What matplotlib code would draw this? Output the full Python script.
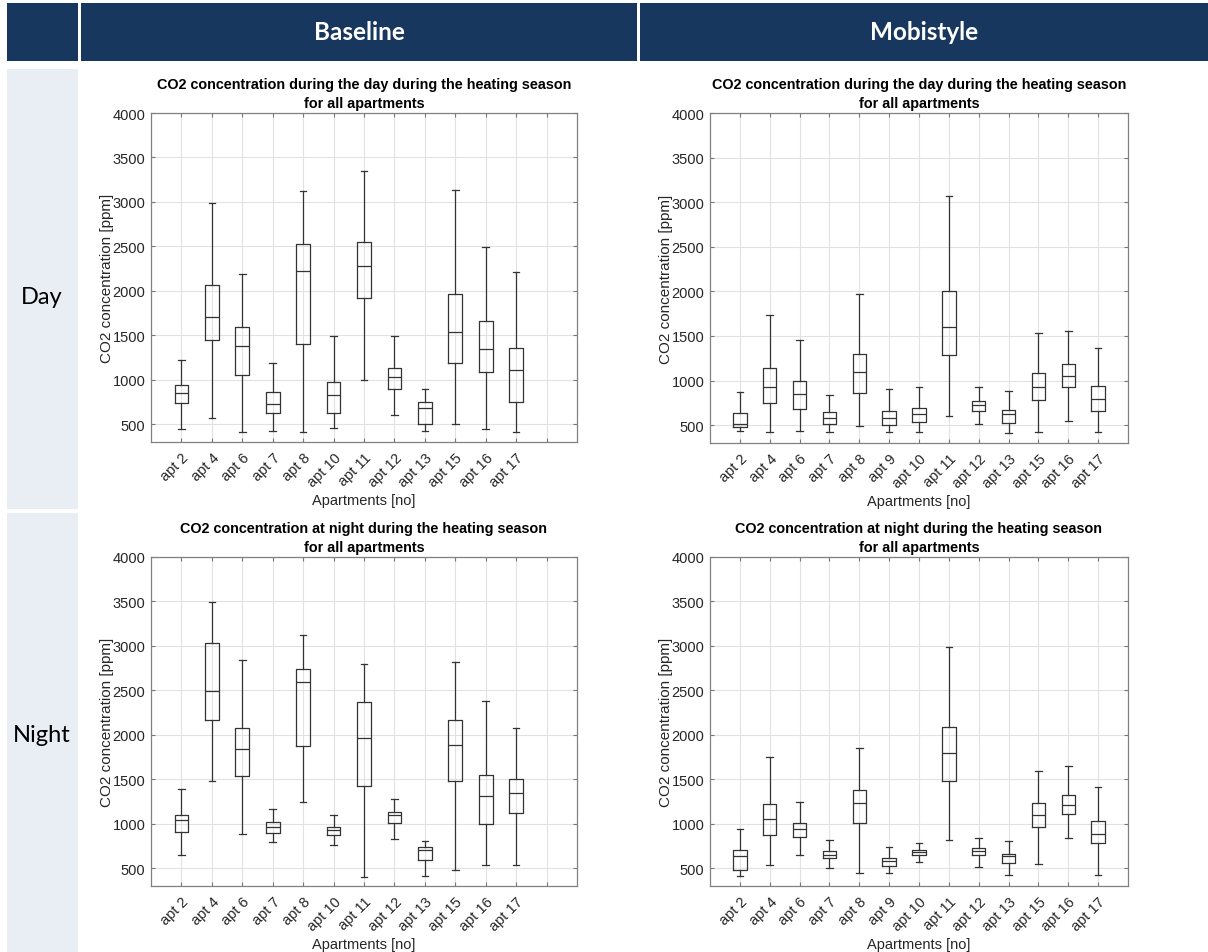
import matplotlib
matplotlib.use("Agg")
from matplotlib import pyplot as plt
from matplotlib.patches import Rectangle

# apartments in each study phase
apts_base = ['apt 2', 'apt 4', 'apt 6', 'apt 7', 'apt 8', 'apt 10', 'apt 11',
             'apt 12', 'apt 13', 'apt 15', 'apt 16', 'apt 17', '']
apts_mobi = ['apt 2', 'apt 4', 'apt 6', 'apt 7', 'apt 8', 'apt 9', 'apt 10',
             'apt 11', 'apt 12', 'apt 13', 'apt 15', 'apt 16', 'apt 17']

# baseline, day [ppm]
base_day_lo = [444, 568, 418, 429, 407, 463, 998, 605, 429, 504, 444, 418]
base_day_q1 = [736, 1447, 1054, 631, 1399, 631, 1915, 893, 504, 1185, 1092, 755]
base_day_med = [856, 1709, 1384, 725, 2222, 833, 2278, 1032, 680, 1541, 1350, 1114]
base_day_q3 = [942, 2069, 1593, 860, 2525, 979, 2544, 1137, 755, 1964, 1657, 1361]
base_day_hi = [1222, 2993, 2185, 1185, 3120, 1496, 3349, 1496, 901, 3132, 2495, 2215]

# mobistyle, day [ppm]
mobi_day_lo = [429, 418, 429, 418, 489, 425, 425, 601, 508, 410, 418, 549, 418]
mobi_day_q1 = [474, 744, 680, 511, 856, 500, 541, 1290, 661, 519, 785, 923, 654]
mobi_day_med = [511, 923, 845, 583, 1092, 583, 620, 1605, 725, 624, 923, 1054, 788]
mobi_day_q3 = [631, 1137, 991, 642, 1301, 661, 695, 2001, 766, 669, 1088, 1181, 942]
mobi_day_hi = [867, 1732, 1455, 837, 1968, 905, 931, 3072, 931, 886, 1533, 1556, 1369]

# baseline, night [ppm]
base_night_lo = [646, 1482, 883, 796, 1246, 762, 403, 834, 410, 485, 534, 534]
base_night_q1 = [905, 2164, 1538, 897, 1879, 871, 1426, 1014, 598, 1482, 1002, 1119]
base_night_med = [1040, 2497, 1838, 961, 2598, 927, 1969, 1096, 707, 1890, 1317, 1347]
base_night_q3 = [1100, 3030, 2074, 1021, 2737, 969, 2374, 1134, 733, 2171, 1550, 1505]
base_night_hi = [1396, 3498, 2842, 1167, 3127, 1100, 2801, 1276, 808, 2823, 2378, 2081]

# mobistyle, night [ppm]
mobi_night_lo = [418, 541, 654, 504, 451, 451, 568, 815, 511, 422, 553, 842, 429]
mobi_night_q1 = [478, 875, 856, 613, 1010, 530, 646, 1486, 646, 564, 965, 1111, 778]
mobi_night_med = [632, 1055, 946, 654, 1231, 583, 680, 1801, 691, 635, 1104, 1212, 883]
mobi_night_q3 = [710, 1227, 1014, 695, 1385, 613, 707, 2093, 729, 662, 1231, 1325, 1033]
mobi_night_hi = [946, 1751, 1250, 819, 1857, 744, 789, 2992, 842, 804, 1591, 1647, 1418]

yticks = [500, 1000, 1500, 2000, 2500, 3000, 3500, 4000]

W, H = 1208, 953
NAVY = '#17375e'
LIGHT = '#e9eef5'
LINE = '#333333'
TXT = '#262626'

fig = plt.figure(figsize=(W / 100, H / 100), dpi=100)


def px_box(x0, y0, x1, y1):
    # pixel box (top-left origin) -> figure fraction [l, b, w, h]
    return [x0 / W, 1 - y1 / H, (x1 - x0) / W, (y1 - y0) / H]


def cell(x0, y0, x1, y1, color):
    l, b, w, h = px_box(x0, y0, x1, y1)
    fig.patches.append(Rectangle((l, b), w, h, transform=fig.transFigure,
                                 facecolor=color, edgecolor='none', zorder=0))


# table frame
cell(7, 4, 78, 62, NAVY)
cell(81, 4, 637, 62, NAVY)
cell(640, 4, 1208, 62, NAVY)
cell(7, 70, 78, 510, LIGHT)
cell(7, 514, 78, 953, LIGHT)

fig.text(359 / W, 1 - 33 / H, 'Baseline', color='white', fontsize=17.5,
         fontweight='bold', family='Lato', ha='center', va='center')
fig.text(924 / W, 1 - 33 / H, 'Mobistyle', color='white', fontsize=17.5,
         fontweight='bold', family='Lato', ha='center', va='center')
fig.text(42 / W, 1 - 297 / H, 'Day', color='black', fontsize=17,
         family='Lato', ha='center', va='center')
fig.text(42 / W, 1 - 736 / H, 'Night', color='black', fontsize=17,
         family='Lato', ha='center', va='center')


def panel(box, title, labels, lo, q1, med, q3, hi):
    ax = fig.add_axes(px_box(*box))
    stats = []
    for i in range(len(lo)):
        stats.append(dict(whislo=lo[i], q1=q1[i], med=med[i], q3=q3[i],
                          whishi=hi[i], fliers=[]))
    pos = list(range(1, len(lo) + 1))
    lp = dict(color=LINE, linewidth=0.9)
    ax.bxp(stats, positions=pos, widths=0.45, capwidths=0.22,
           showfliers=False, boxprops=lp, medianprops=lp,
           whiskerprops=lp, capprops=lp, manage_ticks=False)
    ax.set_xlim(0, 14)
    ax.set_ylim(300, 4000)
    ax.set_xticks(range(1, len(labels) + 1))
    ax.set_xticklabels(labels, rotation=45, ha='right', rotation_mode='anchor',
                       fontsize=10.5, family='Liberation Sans', color=TXT)
    ax.set_yticks(yticks)
    ax.set_yticklabels([str(v) for v in yticks], fontsize=10.5,
                       family='Liberation Sans', color=TXT)
    ax.tick_params(direction='in', length=3, top=True, right=True,
                   color='#777777', width=0.8)
    ax.tick_params(axis='x', pad=6)
    ax.tick_params(axis='y', pad=4)
    ax.grid(True, color='#e2e2e2', linewidth=0.8)
    ax.set_axisbelow(True)
    for s in ax.spines.values():
        s.set_color('#808080')
        s.set_linewidth(0.9)
    ax.set_title(title, fontsize=10.4, fontweight='bold',
                 family='Liberation Sans', pad=4, linespacing=1.45)
    ax.set_ylabel('CO2 concentration [ppm]', fontsize=11,
                  family='Liberation Sans', color=TXT, labelpad=-1)
    ax.set_xlabel('Apartments [no]', fontsize=10.5,
                  family='Liberation Sans', color=TXT, labelpad=2.5)
    return ax


t_day = 'CO2 concentration during the day during the heating season\nfor all apartments'
t_night = 'CO2 concentration at night during the heating season\nfor all apartments'

panel((151, 114, 577, 443), t_day, apts_base,
      base_day_lo, base_day_q1, base_day_med, base_day_q3, base_day_hi)
panel((710, 114, 1128, 444), t_day, apts_mobi,
      mobi_day_lo, mobi_day_q1, mobi_day_med, mobi_day_q3, mobi_day_hi)
panel((151, 558, 577, 887), t_night, apts_base,
      base_night_lo, base_night_q1, base_night_med, base_night_q3, base_night_hi)
panel((710, 558, 1128, 887), t_night, apts_mobi,
      mobi_night_lo, mobi_night_q1, mobi_night_med, mobi_night_q3, mobi_night_hi)

fig.savefig('out.png', dpi=100, facecolor='white')
